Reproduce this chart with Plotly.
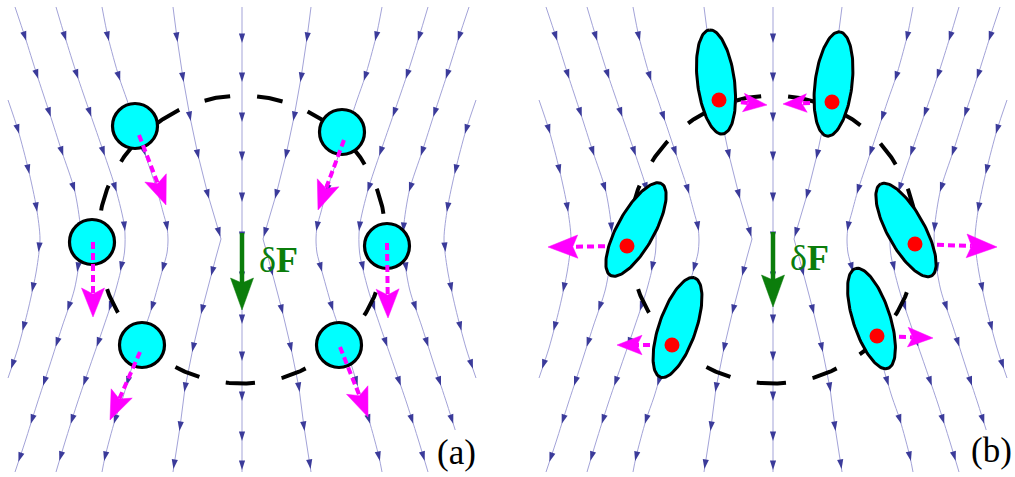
import numpy as np
import plotly.graph_objects as go

# ---------------- data ----------------
axis_x = [242, 773]            # symmetry axis of panel (a) and (b)
panel_labels = ["(a)", "(b)"]
label_x = [456, 991]
label_y = [452, 450]
ring_cy = 239.5
ring_r = 144

# streamlines of the left half: x offset from the axis, y (down)
sl_outer_dx = [-234, -224, -213.5, -205.5, -202, -205.5, -213.5, -224, -234]
sl_outer_y = [100, 130, 170, 208, 239, 270, 308, 348, 378]
sl_outer_arrows = [130, 170, 208, 248, 288, 327, 365]

sl_a_dx = [-227, -217, -205, -192.5, -180, -167.5, -161.5, -161.5, -167.5, -180, -192.5, -205, -217, -227]
sl_a_y = [7, 37, 75, 113, 152, 190, 228, 251, 289, 327, 366, 404, 442, 472]
sl_a_arrows = [37, 75, 113, 152, 188, 228, 268, 307, 343, 382, 420, 458]
sl_a_right_end = 430          # right copy stops above the panel label

sl_b_dx = [-186, -177, -165, -152, -138.5, -126, -117.5, -117.5, -126, -138.5, -152, -165, -177, -186]
sl_b_y = [7, 37, 75, 113, 152, 190, 227, 252, 289, 327, 366, 404, 442, 472]
sl_b_arrows = [37, 75, 113, 152, 188, 227, 267, 307, 343, 382, 420, 457]

sl_c_dx = [-140, -134, -123, -115, -105, -95, -85, -79, -75, -74, -75, -79, -90, -100, -110, -119, -127, -137, -140]
sl_c_y = [7, 37, 77, 100, 130, 160, 190, 212, 227, 240, 253, 268, 307, 337, 367, 397, 420, 457, 472]
sl_c_arrows = [37, 77, 117, 152, 190, 227, 268, 307, 345, 382, 420, 457]

sl_d_dx = [-69, -65, -59, -52, -44, -34, -26, -21, -26, -33, -40, -49, -57, -62, -68, -69]
sl_d_y = [7, 38, 78, 117, 155, 195, 222, 239, 257, 284, 310, 348, 388, 427, 465, 472]
sl_d_arrows = [38, 78, 117, 155, 195, 233, 272, 310, 348, 388, 427, 465]

sl_mid_dx = [0, 0]
sl_mid_y = [7, 472]
sl_mid_arrows = [39, 78, 118, 157, 198, 237, 277, 320, 357, 397, 437, 466]

# panel (a): round particles and their displacement arrows
pa_x = [135, 342, 92, 387, 142, 339]
pa_y = [126, 132, 242, 246, 345, 345]
va_x0 = [139, 344, 93, 387, 140, 340]
va_y0 = [135, 140, 242, 243, 352, 347]
va_x1 = [166, 318, 93, 388, 110, 368]
va_y1 = [205, 210, 317, 318, 420, 417]

# panel (b): elongated particles (centre, semi-axes, tilt from vertical in deg)
eb_x = [716, 833.5, 636, 906, 677.5, 871.5]
eb_y = [82, 84, 229.5, 230, 327.5, 318.5]
eb_tilt = [-7.4, 7.0, 29, -29, 19, -18]
eb_a = 52.5
eb_b = 18.5
dot_x = [719, 832, 627, 915, 672, 877]
dot_y = [100, 102, 246, 244, 345, 336]
vb_x1 = [767, 783, 548, 997, 617, 933]
vb_y1 = [105, 104, 247, 247, 345, 338]

# force arrow
force_y0 = [233, 232]
force_y1 = [310, 307]

# ---------------- styles ----------------
LINE_COL = "#a3a3d8"
HEAD_COL = "#3b3b9a"
MAG = "#ff00ff"
CYAN = "#00ffff"
GREEN = "#0b7d0b"

fig = go.Figure()


def head(tx, ty, ux, uy, L, W, notch):
    px, py = -uy, ux
    bx, by = tx - L * ux, ty - L * uy
    xs = [tx, bx + W / 2 * px, tx - (L - notch) * ux, bx - W / 2 * px, tx]
    ys = [ty, by + W / 2 * py, ty - (L - notch) * uy, by - W / 2 * py, ty]
    return xs, ys


def add_arrow(x0, y0, x1, y1, color, L, W, notch, width, dash):
    dx, dy = x1 - x0, y1 - y0
    n = np.hypot(dx, dy)
    ux, uy = dx / n, dy / n
    ex, ey = x1 - (L - notch) * ux, y1 - (L - notch) * uy
    fig.add_trace(go.Scatter(x=[x0, ex], y=[y0, ey], mode="lines",
                             line=dict(color=color, width=width, dash=dash),
                             hoverinfo="skip"))
    hx, hy = head(x1, y1, ux, uy, L, W, notch)
    fig.add_trace(go.Scatter(x=hx, y=hy, mode="lines", fill="toself",
                             fillcolor=color, line=dict(color=color, width=0.5),
                             hoverinfo="skip"))


def clip_end(xs, ys, arr, yend):
    if yend is None:
        return xs, ys, arr
    keep_x = [x for x, y in zip(xs, ys) if y < yend]
    keep_y = [y for y in ys if y < yend]
    keep_x.append(float(np.interp(yend, ys, xs)))
    keep_y.append(yend)
    return keep_x, keep_y, [a for a in arr if a < yend - 4]


streams = [
    (sl_outer_dx, sl_outer_y, sl_outer_arrows, "spline", None),
    (sl_a_dx, sl_a_y, sl_a_arrows, "spline", sl_a_right_end),
    (sl_b_dx, sl_b_y, sl_b_arrows, "spline", None),
    (sl_c_dx, sl_c_y, sl_c_arrows, "spline", None),
    (sl_d_dx, sl_d_y, sl_d_arrows, "linear", None),
]

for p, cx in enumerate(axis_x):
    mx, my, mang = [], [], []
    lines = []
    for dxs, ys, arr, shape, rend in streams:
        lines.append(([cx + d for d in dxs], ys, arr, shape))
        rx, ry, ra = clip_end([cx - d for d in dxs], ys, arr, rend)
        lines.append((rx, ry, ra, shape))
    lines.append(([cx + d for d in sl_mid_dx], sl_mid_y, sl_mid_arrows, "linear"))
    for xs, ys, arr, shape in lines:
        fig.add_trace(go.Scatter(x=xs, y=ys, mode="lines",
                                 line=dict(color=LINE_COL, width=1, shape=shape, smoothing=0.8),
                                 hoverinfo="skip"))
        for ya in arr:
            xa = np.interp(ya, ys, xs)
            xd = np.interp(ya + 2, ys, xs) - np.interp(ya - 2, ys, xs)
            n = np.hypot(xd, 4.0)
            ux, uy = xd / n, 4.0 / n
            ang = np.degrees(np.arctan2(xd, -4.0))
            mx.append(xa + 4 * ux)
            my.append(ya + 4 * uy)
            mang.append(ang)
    fig.add_trace(go.Scatter(x=mx, y=my, mode="markers",
                             marker=dict(symbol="arrow", size=10, color=HEAD_COL,
                                         angle=mang, line=dict(width=0)),
                             hoverinfo="skip"))

    # dashed ring
    phi = np.linspace(0, 2 * np.pi, 721) - 13.0 / ring_r
    fig.add_trace(go.Scatter(x=cx + ring_r * np.sin(phi), y=ring_cy + ring_r * np.cos(phi),
                             mode="lines", line=dict(color="black", width=4, dash="26px,27px"),
                             hoverinfo="skip"))

# panel (a) particles and arrows
fig.add_trace(go.Scatter(x=pa_x, y=pa_y, mode="markers",
                         marker=dict(symbol="circle", size=45, color=CYAN,
                                     line=dict(color="black", width=3.2)),
                         hoverinfo="skip"))
for i in range(len(va_x0)):
    add_arrow(va_x0[i], va_y0[i], va_x1[i], va_y1[i], MAG, 29, 23, 6, 4, "7px,4px")

# panel (b) arrows under the ellipses
for i in range(len(dot_x)):
    L = np.hypot(vb_x1[i] - dot_x[i], vb_y1[i] - dot_y[i])
    hl = 14 + 0.2 * L
    add_arrow(dot_x[i], dot_y[i], vb_x1[i], vb_y1[i], MAG, hl, 0.78 * hl, 5, 4, "7px,4px")

t = np.linspace(0, 2 * np.pi, 121)
for i in range(len(eb_x)):
    th = np.radians(eb_tilt[i])
    ax_u = (np.sin(th), -np.cos(th))
    ax_v = (np.cos(th), np.sin(th))
    ex = eb_x[i] + eb_a * np.cos(t) * ax_u[0] + eb_b * np.sin(t) * ax_v[0]
    ey = eb_y[i] + eb_a * np.cos(t) * ax_u[1] + eb_b * np.sin(t) * ax_v[1]
    fig.add_trace(go.Scatter(x=ex, y=ey, mode="lines", fill="toself", fillcolor=CYAN,
                             line=dict(color="black", width=3), hoverinfo="skip"))
fig.add_trace(go.Scatter(x=dot_x, y=dot_y, mode="markers",
                         marker=dict(size=15, color="#ff0000", line=dict(width=0)),
                         hoverinfo="skip"))

# force arrows and labels
for p, cx in enumerate(axis_x):
    add_arrow(cx, force_y0[p], cx, force_y1[p], GREEN, 32, 23, 5, 4.5, "solid")
    fig.add_annotation(x=cx + 15, y=(force_y0[p] + force_y1[p]) / 2 - 12,
                       text="δ<b>F</b>", showarrow=False, xanchor="left", yanchor="middle",
                       font=dict(family="Liberation Serif", size=36, color=GREEN))
    fig.add_annotation(x=label_x[p], y=label_y[p], text=panel_labels[p], showarrow=False,
                       xanchor="center", yanchor="middle",
                       font=dict(family="Liberation Serif", size=35, color="black"))

fig.update_layout(width=1015, height=477, margin=dict(l=0, r=0, t=0, b=0),
                  paper_bgcolor="white", plot_bgcolor="white", showlegend=False,
                  xaxis=dict(visible=False, range=[0, 1015]),
                  yaxis=dict(visible=False, range=[477, 0]))

fig.write_html("out.html", config={"displayModeBar": False},
               post_script="document.body.style.margin='0px';")
